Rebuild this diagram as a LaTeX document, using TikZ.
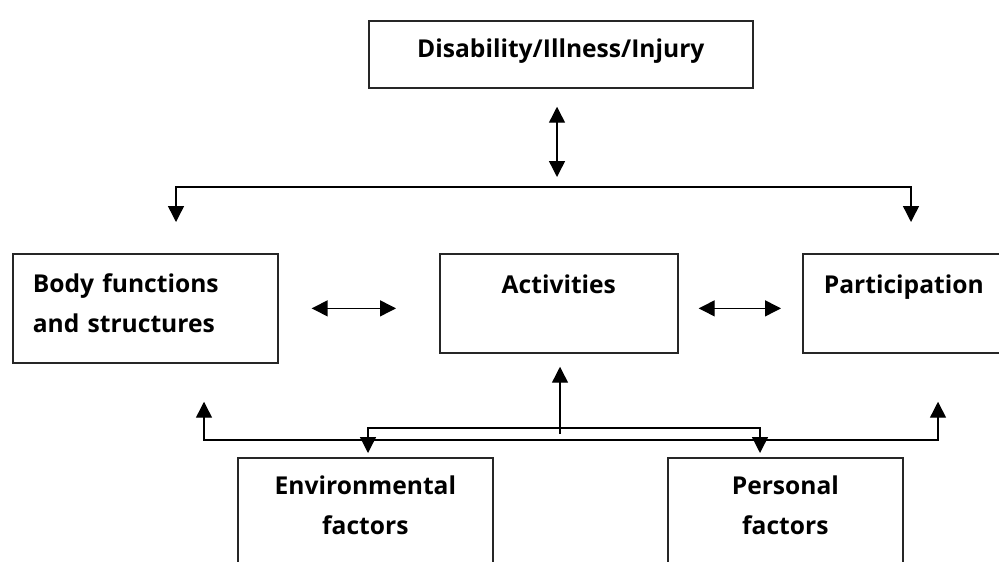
\documentclass[tikz,border=0pt]{standalone}
\usepackage{fontspec}
\setmainfont{Open Sans}
\usepackage{tikz}
\usetikzlibrary{arrows.meta}

\begin{document}
\begin{tikzpicture}[x=0.02cm,y=-0.02cm,
box/.style={draw=black!85,line width=1pt,anchor=north west,inner ysep=0pt,
  font=\fontsize{14pt}{22.8pt}\selectfont\bfseries},
arr/.style={line width=0.8pt,-{Triangle[length=0.32cm,width=0.32cm]}},
dbl/.style={line width=0.8pt,{Triangle[length=0.32cm,width=0.32cm]}-{Triangle[length=0.32cm,width=0.32cm]}}
]
\path[use as bounding box,clip] (0,0) rectangle (999,561);
\node[box,inner xsep=0pt,text width=7.68cm,align=center,text height=0.74cm,text depth=0.6cm]
  (dis) at (368,20) {Disability/Illness/Injury};
\node[box,inner xsep=0.4cm,text width=4.5cm,align=left,text height=0.78cm,text depth=1.4cm]
  (body) at (12,253) {Body functions\\and structures};
\node[box,inner xsep=0pt,text width=4.76cm,align=center,text height=0.8cm,text depth=1.18cm]
  (act) at (439,253) {Activities};
\node[box,inner xsep=0.42cm,text width=3.8cm,align=left,text height=0.8cm,text depth=1.18cm]
  (part) at (802,253) {Participation};
\node[box,inner xsep=0pt,text width=5.1cm,align=center,text height=0.74cm,text depth=1.92cm]
  (env) at (237,457) {Environmental\\factors};
\node[box,inner xsep=0pt,text width=4.7cm,align=center,text height=0.74cm,text depth=1.92cm]
  (pers) at (667,457) {Personal\\factors};
\coordinate (hub) at (557,187);
\coordinate (barL) at (176,187);
\coordinate (barR) at (911,187);
\coordinate (lowL) at (204,440);
\coordinate (lowR) at (938,440);
\coordinate (fkL) at (368,428);
\coordinate (fkR) at (760,428);
\coordinate (stem) at (560,434);
% upper part
\draw[dbl,shorten <=0.36cm,shorten >=0.2cm] (dis.south -| hub) -- (hub);
\draw[dbl,shorten <=0.62cm,shorten >=0.62cm] (barL |- body.north) -- (barL) -- (barR) -- (barR |- part.north);
\draw[dbl,shorten <=0.66cm,shorten >=0.86cm] (body.east) -- (body.east -| act.west);
\draw[dbl,shorten <=0.4cm,shorten >=0.42cm] (act.east |- body.east) -- (part.west |- body.east);
% lower part
\draw[dbl,shorten <=0.76cm,shorten >=0.96cm] (lowL |- body.south) -- (lowL) -- (lowR) -- (lowR |- part.south);
\draw[dbl,shorten <=0.08cm,shorten >=0.08cm] (fkL |- env.north) -- (fkL) -- (fkR) -- (fkR |- pers.north);
\draw[arr,shorten >=0.26cm] (stem) -- (stem |- act.south);
\end{tikzpicture}
\end{document}
